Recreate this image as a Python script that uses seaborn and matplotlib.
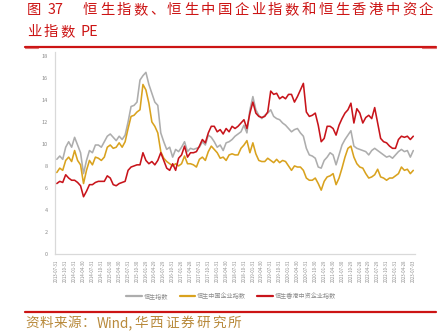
import matplotlib
matplotlib.use("Agg")
import matplotlib.pyplot as plt
import numpy as np
import pandas as pd
import seaborn as sns

# Monthly PE series, July 2013 to July 2023
hsi_pe = [
    8.6, 8.9, 8.6, 9.7, 10.2, 9.7, 10.6, 9.9, 9.2, 7.3,
    8.5, 9.4, 9.2, 9.9, 9.9, 9.7, 10.2, 10.7, 10.9, 10.6,
    10.3, 10.7, 10.4, 10.8, 12.0, 13.4, 13.5, 13.8, 15.8, 16.2,
    16.5, 15.4, 14.6, 13.8, 13.5, 11.0, 10.2, 9.5, 9.7, 8.8,
    9.5, 9.3, 9.7, 10.2, 9.3, 9.6, 9.5, 9.6, 9.7, 10.2,
    9.9, 10.8, 10.6, 10.2, 9.7, 9.9, 9.4, 10.1, 10.2, 10.4,
    10.7, 10.9, 11.1, 11.7, 11.0, 13.1, 14.3, 13.1, 12.6, 12.3,
    12.6, 12.8, 13.1, 12.5, 12.3, 12.2, 11.9, 11.7, 11.4, 11.1,
    11.3, 11.4, 11.0, 10.7, 9.6, 9.0, 8.9, 8.7, 7.9, 7.8,
    8.5, 8.8, 9.2, 9.0, 8.1, 9.0, 9.9, 10.4, 10.8, 11.2,
    9.8, 9.6, 9.5, 9.4, 9.3, 9.0, 9.4, 9.6, 9.4, 9.2,
    9.0, 8.8, 8.9, 8.7, 9.0, 9.3, 9.5, 9.3, 9.4, 8.8, 9.4,
]
hscei_pe = [
    7.4, 7.8, 7.6, 8.5, 8.8, 8.4, 9.4, 8.5, 8.1, 6.4,
    7.6, 8.5, 8.1, 8.8, 8.7, 8.5, 8.8, 9.7, 9.9, 9.6,
    9.7, 10.1, 9.7, 10.2, 11.4, 12.5, 12.6, 12.9, 13.1, 15.4,
    14.9, 13.7, 12.0, 11.6, 11.0, 9.3, 8.7, 8.4, 8.2, 8.0,
    8.2, 8.0, 8.2, 8.9, 8.2, 8.2, 8.1, 7.9, 8.6, 8.8,
    8.5, 9.3, 9.8, 9.5, 9.2, 8.7, 8.8, 8.5, 9.0, 9.1,
    9.0, 9.0, 9.6, 9.9, 10.3, 9.2, 10.1, 9.1, 8.5, 8.4,
    8.4, 8.7, 8.5, 8.3, 8.6, 8.3, 8.5, 8.4, 8.0, 7.6,
    8.0, 7.9, 7.9, 7.6, 6.9, 6.7, 6.7, 6.9, 6.4, 5.8,
    6.6, 7.0, 7.1, 7.3, 6.3, 6.9, 7.8, 8.8, 9.6, 9.8,
    8.8, 8.2, 7.9, 7.8, 7.3, 6.9, 7.0, 7.2, 7.7, 7.0,
    6.9, 6.7, 6.9, 6.9, 7.1, 7.3, 7.9, 7.6, 7.7, 7.3, 7.6,
]
hscci_pe = [
    6.4, 6.6, 6.5, 7.2, 6.9, 6.7, 6.7, 6.5, 6.2, 5.2,
    5.7, 6.3, 6.3, 6.5, 6.6, 6.6, 6.6, 7.1, 6.9, 6.3,
    6.2, 6.4, 6.5, 6.6, 7.6, 7.9, 8.0, 8.1, 8.1, 9.2,
    8.5, 8.2, 8.4, 8.1, 8.5, 9.2, 8.5, 7.8, 7.6, 8.2,
    7.6, 8.7, 9.0, 9.8, 8.8, 9.2, 9.2, 9.3, 9.8, 10.4,
    10.1, 11.0, 11.6, 11.6, 11.1, 11.3, 10.9, 11.4, 11.1, 11.6,
    11.4, 11.6, 11.9, 12.2, 11.4, 12.8, 13.8, 12.8, 12.5, 12.4,
    12.5, 12.9, 14.8, 14.5, 14.6, 14.1, 14.3, 14.1, 14.5, 14.5,
    13.8, 14.3, 14.9, 15.5, 12.9, 12.5, 12.6, 12.8, 11.7, 10.2,
    10.5, 11.6, 11.6, 11.4, 10.8, 11.7, 12.3, 12.8, 13.1, 13.7,
    11.9, 13.2, 12.8, 11.9, 12.4, 12.6, 12.3, 13.3, 11.9, 10.5,
    10.2, 10.1, 9.8, 9.6, 9.6, 10.4, 10.7, 10.6, 10.7, 10.4, 10.7,
]

# Quarterly axis labels (one every three monthly observations)
tick_labels = [
    "2013-07-31", "2013-10-31", "2014-01-31", "2014-04-30", "2014-07-31",
    "2014-10-31", "2015-01-30", "2015-04-30", "2015-07-31", "2015-10-30",
    "2016-01-29", "2016-04-29", "2016-07-29", "2016-10-31", "2017-01-26",
    "2017-04-28", "2017-07-31", "2017-10-31", "2018-01-31", "2018-04-30",
    "2018-07-31", "2018-10-31", "2019-01-31", "2019-04-30", "2019-07-31",
    "2019-10-31", "2020-01-31", "2020-04-30", "2020-07-31", "2020-10-30",
    "2021-01-29", "2021-04-30", "2021-07-30", "2021-10-29", "2022-01-28",
    "2022-04-29", "2022-07-29", "2022-10-31", "2023-01-31", "2023-04-28",
    "2023-07-03",
]

series_names = ["恒生指数", "恒生中国企业指数", "恒生香港中资企业指数"]
colors = ["#ADADAD", "#D9A21E", "#C8141B"]

title_label = "图"
title_number = "37"
title_line1 = "恒生指数、恒生中国企业指数和恒生香港中资企"
title_line2 = "业指数"
title_suffix = "PE"
source_head = "资料来源："
source_vendor = "Wind,"
source_org = "华西证券研究所"

sns.set_theme(style="white")
plt.rcParams["font.family"] = ["Noto Sans CJK SC", "DejaVu Sans"]

n = len(hsi_pe)
df = pd.DataFrame({
    "idx": np.tile(np.arange(n), 3),
    "pe": hsi_pe + hscei_pe + hscci_pe,
    "series": np.repeat(series_names, n),
})

W, H = 446, 334
fig = plt.figure(figsize=(W / 100, H / 100), dpi=100)
ax = fig.add_axes([55 / W, 1 - 254 / H, (414.5 - 55) / W, (254 - 52) / H])

sns.lineplot(data=df, x="idx", y="pe", hue="series", hue_order=series_names,
             palette=dict(zip(series_names, colors)), linewidth=1.15,
             legend=False, ax=ax)

ax.set_xlim(-0.6, 120.4)
ax.set_ylim(0, 18.35)
ax.set_yticks(np.arange(0, 19, 2))
ax.set_yticklabels([str(v) for v in range(0, 19, 2)])
ax.set_xticks(np.arange(0, n, 3))
ax.set_xticklabels(tick_labels, rotation=90)
ax.set_xlabel("")
ax.set_ylabel("")
ax.tick_params(axis="both", length=0, colors="#8C8C8C")
ax.tick_params(axis="y", labelsize=4.0, pad=5)
ax.tick_params(axis="x", labelsize=3.1, pad=4)
for s in ["top", "right"]:
    ax.spines[s].set_visible(False)
for s in ["left", "bottom"]:
    ax.spines[s].set_color("#D9D9D9")
    ax.spines[s].set_linewidth(0.9)

# Legend row
handles = [plt.Line2D([], [], color=c, linewidth=1.6) for c in colors]
fig.legend(handles, series_names, loc="center", bbox_to_anchor=(231 / W, 1 - 296 / H),
           ncol=3, frameon=False, fontsize=4.4, handlelength=2.5, handletextpad=0.3,
           columnspacing=1.9, labelcolor="#8C8C8C")


def spaced_text(x0, y, chars, advance, **kw):
    """Place characters one by one with a fixed advance (pixels)."""
    for k, ch in enumerate(chars):
        fig.text((x0 + k * advance) / W, 1 - y / H, ch, ha="left", va="center", **kw)


# Title and rules
red = "#CC1414"
tkw = dict(color=red, fontsize=10.3, fontweight="light")
spaced_text(27, 10, title_label, 16.8, **tkw)
fig.text(47.5 / W, 1 - 10 / H, title_number, ha="left", va="center", **tkw)
spaced_text(83, 10, title_line1, 16.8, **tkw)
spaced_text(27, 32, title_line2, 16.8, **tkw)
fig.text(81 / W, 1 - 32 / H, title_suffix, ha="left", va="center", **tkw)

fig.add_artist(plt.Line2D([25 / W, 436 / W], [1 - 46.5 / H, 1 - 46.5 / H],
                          color=red, linewidth=1.6))
for xa, xb in [(25, 38), (422, 436)]:
    fig.add_artist(plt.Line2D([xa / W, xb / W], [1 - 48.2 / H, 1 - 48.2 / H],
                              color="#E07070", linewidth=0.8))
fig.add_artist(plt.Line2D([25 / W, 436 / W], [1 - 312 / H, 1 - 312 / H],
                          color=red, linewidth=1.6))

skw = dict(color="#B8893A", fontsize=9.8, fontweight="light")
spaced_text(25, 323, source_head, 14.2, **skw)
fig.text(97 / W, 1 - 323 / H, source_vendor, ha="left", va="center", **skw)
spaced_text(134, 323, source_org, 15.6, **skw)

fig.savefig("out.png", dpi=100)
